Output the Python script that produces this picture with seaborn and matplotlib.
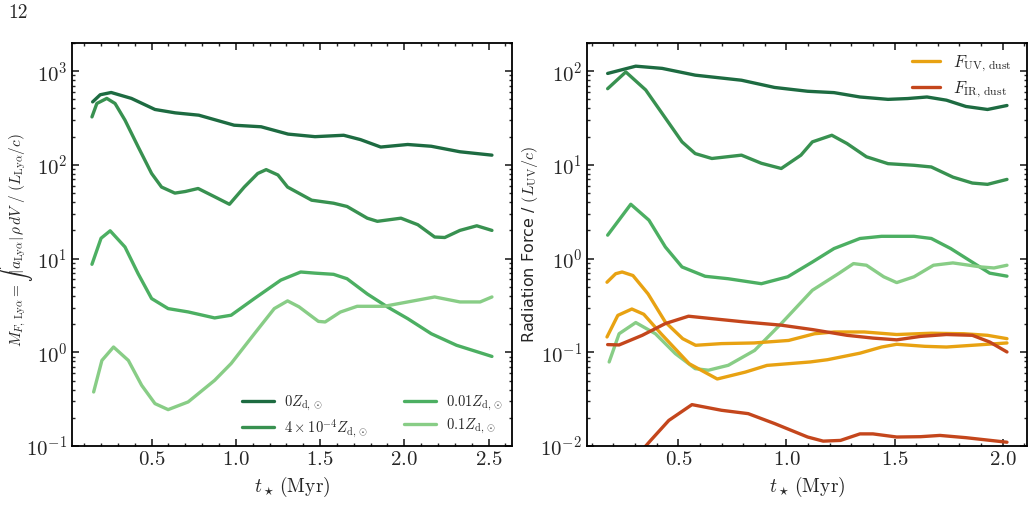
import numpy as np
import pandas as pd
import matplotlib
matplotlib.use("Agg")
import matplotlib.pyplot as plt
from matplotlib.ticker import MultipleLocator, LogLocator, NullFormatter
import seaborn as sns

# DATA - left panel (M_F,Lya vs t)
t_0 = [0.15, 0.195, 0.26, 0.38, 0.52, 0.64, 0.78, 0.99, 1.15, 1.31, 1.47, 1.64,
       1.74, 1.86, 2.02, 2.16, 2.33, 2.52]
m_0 = [470, 560, 592, 512, 390, 359, 339, 265, 255, 213, 200, 207,
       186, 155, 165, 158, 138, 127]

t_4e4 = [0.146, 0.175, 0.234, 0.283, 0.342, 0.42, 0.50, 0.559, 0.638, 0.70, 0.776, 0.874,
         0.962, 1.05, 1.13, 1.18, 1.25, 1.307, 1.45, 1.58, 1.66, 1.78, 1.84, 1.98,
         2.08, 2.18, 2.24, 2.33, 2.43, 2.52]
m_4e4 = [325, 452, 512, 452, 300, 156, 81, 58, 50, 52, 56, 45.7,
         38, 58, 81, 89, 78, 58, 42, 39, 36, 27, 25, 27,
         23, 17, 16.8, 20, 22.4, 20]

t_001 = [0.146, 0.20, 0.254, 0.342, 0.42, 0.50, 0.598, 0.717, 0.874, 0.972, 1.11, 1.267,
         1.385, 1.47, 1.58, 1.66, 1.78, 1.90, 2.02, 2.16, 2.31, 2.52]
m_001 = [8.7, 16.5, 19.8, 13.3, 6.9, 3.75, 2.93, 2.7, 2.33, 2.49, 3.75, 5.9,
         7.2, 7.0, 6.8, 6.1, 4.2, 3.05, 2.29, 1.58, 1.19, 0.905]

t_01 = [0.156, 0.205, 0.274, 0.362, 0.441, 0.52, 0.598, 0.717, 0.874, 0.972, 1.11, 1.228,
        1.307, 1.375, 1.49, 1.53, 1.62, 1.72, 1.88, 2.02, 2.18, 2.33, 2.45, 2.52]
m_01 = [0.378, 0.82, 1.14, 0.82, 0.445, 0.284, 0.245, 0.296, 0.503, 0.76, 1.58, 2.93,
        3.54, 3.06, 2.14, 2.11, 2.69, 3.1, 3.1, 3.45, 3.9, 3.45, 3.45, 3.9]

# DATA - right panel (radiation force vs t)
r_t_0 = [0.173, 0.303, 0.425, 0.578, 0.792, 0.945, 1.098, 1.22, 1.34, 1.47, 1.56, 1.65,
         1.74, 1.83, 1.93, 2.02]
r_f_0 = [94.5, 113, 107, 90.6, 80, 67, 61, 59, 53, 50, 51, 53,
         49, 42, 39, 43]

r_t_4e4 = [0.173, 0.257, 0.349, 0.425, 0.517, 0.578, 0.655, 0.792, 0.884, 0.976, 1.067, 1.12,
           1.21, 1.28, 1.37, 1.47, 1.59, 1.67, 1.77, 1.86, 1.93, 2.02]
r_f_4e4 = [65, 98, 63, 35.4, 17.6, 13.2, 11.7, 12.7, 10.4, 9.15, 12.7, 17.6,
           20.7, 16.9, 12.2, 10.3, 9.9, 9.5, 7.4, 6.4, 6.2, 7.0]

r_t_001 = [0.173, 0.28, 0.364, 0.44, 0.517, 0.624, 0.731, 0.884, 1.006, 1.12, 1.22, 1.34,
           1.44, 1.59, 1.67, 1.76, 1.87, 1.94, 2.02]
r_f_001 = [1.78, 3.8, 2.57, 1.33, 0.815, 0.648, 0.61, 0.54, 0.64, 0.92, 1.28, 1.64,
           1.73, 1.73, 1.64, 1.28, 0.885, 0.70, 0.65]

r_t_01 = [0.18, 0.226, 0.303, 0.394, 0.486, 0.578, 0.639, 0.731, 0.853, 0.976, 1.12, 1.24,
          1.31, 1.37, 1.45, 1.51, 1.59, 1.68, 1.77, 1.90, 1.96, 2.02]
r_f_01 = [0.079, 0.158, 0.208, 0.158, 0.097, 0.067, 0.0645, 0.0728, 0.105, 0.203, 0.46, 0.69,
          0.885, 0.85, 0.64, 0.555, 0.64, 0.85, 0.90, 0.815, 0.795, 0.85]

uv_t_a = [0.17, 0.21, 0.24, 0.29, 0.36, 0.44, 0.52, 0.58, 0.70, 0.85, 1.01, 1.13,
          1.22, 1.36, 1.51, 1.67, 1.82, 1.93, 2.02]
uv_f_a = [0.56, 0.69, 0.72, 0.66, 0.42, 0.21, 0.14, 0.119, 0.124, 0.126, 0.134, 0.158,
          0.165, 0.165, 0.155, 0.16, 0.158, 0.152, 0.14]

uv_t_b = [0.17, 0.22, 0.285, 0.34, 0.42, 0.55, 0.68, 0.81, 0.91, 1.11, 1.19, 1.34,
          1.44, 1.51, 1.64, 1.74, 1.86, 2.02]
uv_f_b = [0.146, 0.248, 0.29, 0.255, 0.158, 0.0757, 0.052, 0.0616, 0.0726, 0.079, 0.0835, 0.098,
          0.114, 0.122, 0.116, 0.114, 0.119, 0.126]

ir_t_a = [0.173, 0.226, 0.333, 0.44, 0.547, 0.655, 0.807, 0.976, 1.12, 1.28, 1.40, 1.51,
          1.62, 1.74, 1.86, 1.94, 2.02]
ir_f_a = [0.121, 0.12, 0.152, 0.203, 0.243, 0.229, 0.211, 0.195, 0.175, 0.152, 0.142, 0.136,
          0.148, 0.155, 0.152, 0.129, 0.101]

ir_t_b = [0.17, 0.25, 0.372, 0.456, 0.563, 0.70, 0.823, 0.945, 1.098, 1.17, 1.25, 1.34,
          1.40, 1.51, 1.62, 1.71, 1.83, 2.02]
ir_f_b = [0.0035, 0.0055, 0.0115, 0.0188, 0.0277, 0.0241, 0.0222, 0.0174, 0.0125, 0.0113, 0.0115, 0.0135,
          0.0135, 0.0125, 0.0126, 0.013, 0.0123, 0.011]

labels_left = [r'$0Z_{\rm d,\odot}$', r'$4\times10^{-4}Z_{\rm d,\odot}$',
               r'$0.01Z_{\rm d,\odot}$', r'$0.1Z_{\rm d,\odot}$']
greens = ['#1d6b41', '#389150', '#4caf62', '#88cd86']
c_uv = '#e8a212'
c_ir = '#c4461c'

# STYLE
sns.set_style("ticks")
plt.rcParams['font.family'] = 'serif'
plt.rcParams['font.serif'] = ['cmr10', 'DejaVu Serif']
plt.rcParams['mathtext.fontset'] = 'cm'
plt.rcParams['axes.formatter.use_mathtext'] = True
plt.rcParams['axes.edgecolor'] = 'black'
plt.rcParams['axes.linewidth'] = 1.3
for ax_name in ['xtick', 'ytick']:
    plt.rcParams[ax_name + '.direction'] = 'in'
    plt.rcParams[ax_name + '.major.size'] = 5
    plt.rcParams[ax_name + '.minor.size'] = 2.5
    plt.rcParams[ax_name + '.major.width'] = 1.2
    plt.rcParams[ax_name + '.minor.width'] = 1.0
    plt.rcParams[ax_name + '.labelsize'] = 15
plt.rcParams['xtick.top'] = True
plt.rcParams['ytick.right'] = True

fig = plt.figure(figsize=(10.34, 5.11), dpi=100)
ax1 = fig.add_axes([0.0696, 0.127, 0.4255, 0.789])
ax2 = fig.add_axes([0.5677, 0.127, 0.4255, 0.789])

LW = 2.4

# LEFT PANEL
left_series = [(t_0, m_0), (t_4e4, m_4e4), (t_001, m_001), (t_01, m_01)]
for (tt, mm), col, lab in zip(left_series, greens, labels_left):
    sns.lineplot(x=tt, y=mm, ax=ax1, color=col, lw=LW, label=lab, sort=False)
ax1.set_yscale('log')
ax1.set_ylim(0.1, 2000)
ax1.legend(loc='lower right', ncol=2, frameon=False, fontsize=10.5,
           handlelength=2.2, handletextpad=0.7, columnspacing=2.4,
           labelspacing=0.3, bbox_to_anchor=(1.01, -0.015))
ax1.set_ylabel(r'$M_{F,\,{\rm Ly\alpha}} = \int|a_{\rm Ly\alpha}|\,\rho\,dV\ /\ (L_{\rm Ly\alpha}/c)$',
               fontsize=11)
ax1.yaxis.set_label_coords(-0.083, 0.51)

# RIGHT PANEL
right_green = [(r_t_0, r_f_0), (r_t_4e4, r_f_4e4), (r_t_001, r_f_001), (r_t_01, r_f_01)]
for (tt, ff), col in zip(right_green, greens):
    sns.lineplot(x=tt, y=ff, ax=ax2, color=col, lw=LW, sort=False)
sns.lineplot(x=uv_t_a, y=uv_f_a, ax=ax2, color=c_uv, lw=LW, sort=False,
             label=r'$F_{\rm UV,\,dust}$')
sns.lineplot(x=uv_t_b, y=uv_f_b, ax=ax2, color=c_uv, lw=LW, sort=False)
sns.lineplot(x=ir_t_a, y=ir_f_a, ax=ax2, color=c_ir, lw=LW, sort=False,
             label=r'$F_{\rm IR,\,dust}$')
sns.lineplot(x=ir_t_b, y=ir_f_b, ax=ax2, color=c_ir, lw=LW, sort=False)
ax2.set_yscale('log')
ax2.set_ylim(0.01, 200)
ax2.legend(loc='upper right', frameon=False, fontsize=12, handlelength=1.7,
           handletextpad=0.8, labelspacing=0.3, bbox_to_anchor=(1.0, 1.01))
ax2.set_ylabel(r'Radiation Force / $(L_{\rm UV}/c)$', fontsize=11.5,
               fontfamily='DejaVu Sans')
ax2.yaxis.set_label_coords(-0.107, 0.5)

for ax in (ax1, ax2):
    ax.set_xlabel(r'$t_\star\,({\rm Myr})$', fontsize=14)
    ax.xaxis.set_major_locator(MultipleLocator(0.5))
    ax.xaxis.set_minor_locator(MultipleLocator(0.1))
    ax.yaxis.set_major_locator(LogLocator(base=10, numticks=10))
    ax.yaxis.set_minor_locator(LogLocator(base=10, subs=np.arange(2, 10), numticks=20))
    ax.yaxis.set_minor_formatter(NullFormatter())
    ax.tick_params(which='both', top=True, right=True, direction='in')

fig.text(0.008, 0.965, '12', fontsize=14)

plt.savefig('out.png', dpi=100)
